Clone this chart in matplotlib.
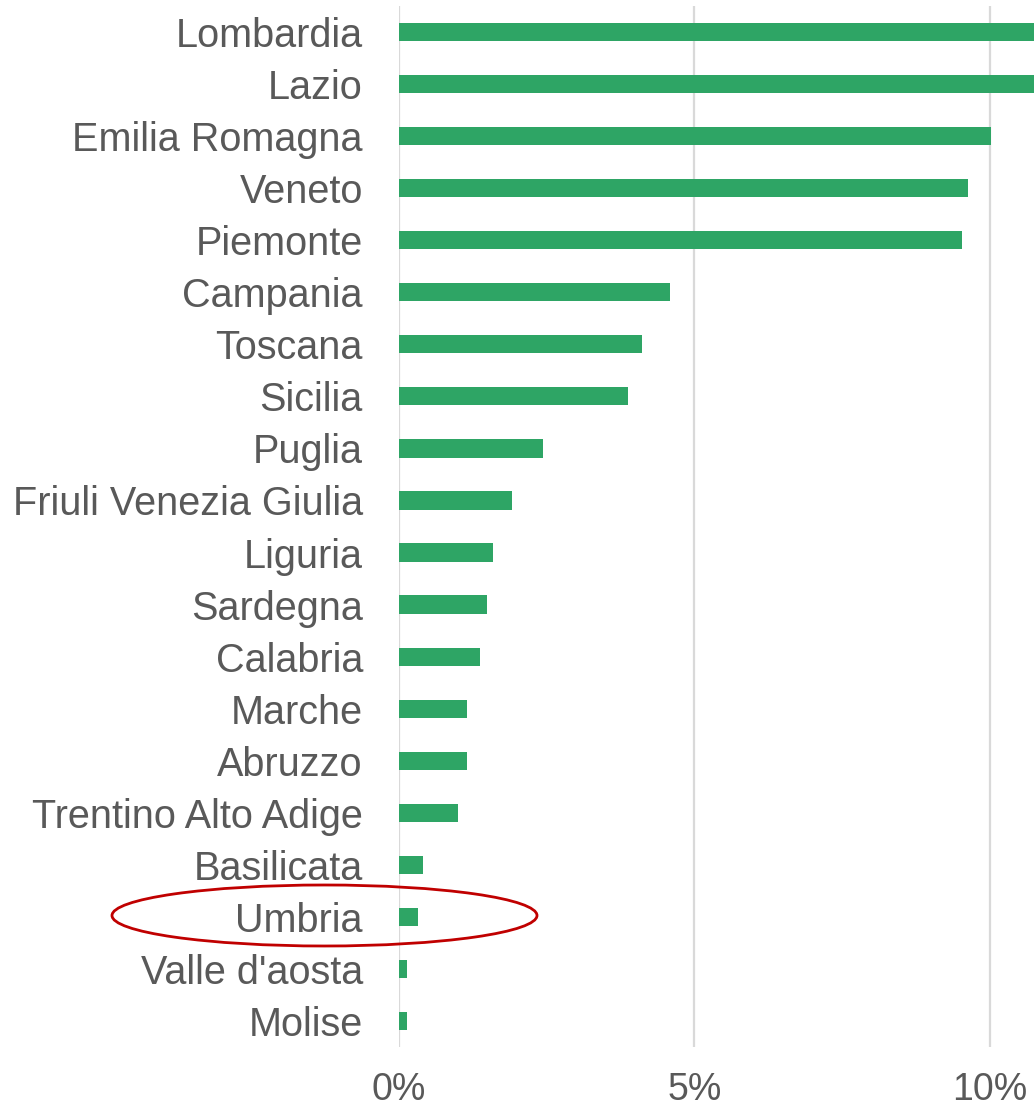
import matplotlib
matplotlib.use('Agg')
import matplotlib.pyplot as plt
from matplotlib.patches import Ellipse
from matplotlib.ticker import FuncFormatter

regions = ['Lombardia', 'Lazio', 'Emilia Romagna', 'Veneto', 'Piemonte',
           'Campania', 'Toscana', 'Sicilia', 'Puglia', 'Friuli Venezia Giulia',
           'Liguria', 'Sardegna', 'Calabria', 'Marche', 'Abruzzo',
           'Trentino Alto Adige', 'Basilicata', 'Umbria', "Valle d'aosta", 'Molise']
shares = [19.0, 12.0, 10.02, 9.63, 9.53,
          4.59, 4.11, 3.87, 2.44, 1.91,
          1.59, 1.49, 1.37, 1.15, 1.15,
          1.00, 0.41, 0.32, 0.14, 0.14]
ticks = [0, 5, 10]
highlight = 'Umbria'

GREEN = '#2EA565'
TEXT = '#595959'
GRID = '#D9D9D9'

fig = plt.figure(figsize=(10.34, 11.10), dpi=100)
ax = fig.add_axes([399 / 1034, 1 - 1047 / 1110, 1 - 399 / 1034, 1041 / 1110])

y = list(range(len(regions)))
ax.barh(y, shares, height=0.35, color=GREEN, zorder=3)

ax.set_ylim(len(regions) - 0.5, -0.5)
ax.set_xlim(0, 10.75)
ax.set_yticks(y)
ax.set_yticklabels(regions, fontsize=28.5, color=TEXT,
                   family=['Liberation Sans', 'DejaVu Sans'])
ax.set_xticks(ticks)
ax.xaxis.set_major_formatter(FuncFormatter(lambda v, p: f'{v:.0f}%'))
for lbl in ax.get_xticklabels():
    lbl.set_fontsize(27)
    lbl.set_color(TEXT)
    lbl.set_family(['Liberation Sans Narrow', 'Liberation Sans', 'DejaVu Sans'])
ax.tick_params(axis='y', length=0, pad=26)
ax.tick_params(axis='x', length=0, pad=18)
ax.grid(axis='x', color=GRID, lw=1.6, zorder=0)
for s in ax.spines.values():
    s.set_visible(False)

# red circle around the highlighted region
cx = 324.5 / 1034
cy = 1 - 915.5 / 1110
fig.patches.append(Ellipse((cx, cy), 425 / 1034, 61 / 1110, transform=fig.transFigure,
                           fill=False, edgecolor='#C00000', lw=2.0, zorder=10))

fig.savefig('out.png', dpi=100)
